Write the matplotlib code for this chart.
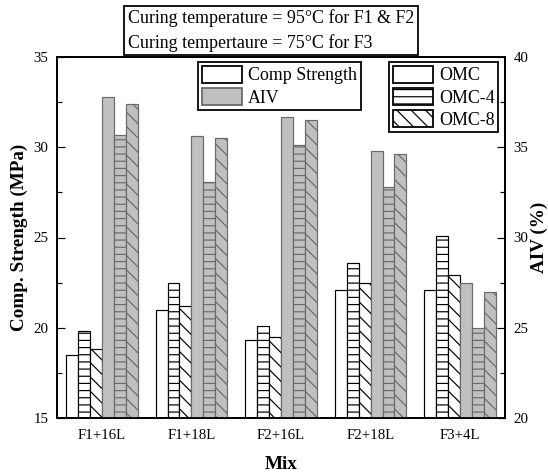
import numpy as np
import matplotlib
matplotlib.use('Agg')
import matplotlib.pyplot as plt
from matplotlib.patches import Patch
from matplotlib.ticker import MultipleLocator

plt.rcParams['font.family'] = ['Liberation Serif', 'DejaVu Serif']
plt.rcParams['hatch.linewidth'] = 1.0

# Daten
mixes = ['F1+16L', 'F1+18L', 'F2+16L', 'F2+18L', 'F3+4L']
cs_omc = [18.5, 21.0, 19.3, 22.1, 22.1]
cs_omc4 = [19.8, 22.5, 20.1, 23.6, 25.1]
cs_omc8 = [18.8, 21.2, 19.5, 22.5, 22.9]
aiv_omc = [37.8, 35.6, 36.7, 34.8, 27.5]
aiv_omc4 = [35.7, 33.1, 35.1, 32.8, 25.0]
aiv_omc8 = [37.4, 35.5, 36.5, 34.6, 27.0]

grey = '#c0c0c0'
grey_edge = '#6a6a6a'
hatches = ['', '--', '\\\\']

dpi = 86
fig = plt.figure(figsize=(548 / dpi, 472 / dpi), dpi=dpi)
ax = fig.add_axes([57 / 548, 1 - 418 / 472, 448 / 548, 361 / 472])
ax2 = ax.twinx()

x = np.arange(len(mixes))
w = 0.8 / 6

for i, (vals, h) in enumerate(zip([cs_omc, cs_omc4, cs_omc8], hatches)):
    ax.bar(x + (i - 2.5) * w, vals, w, color='white', edgecolor='black',
           hatch=h, linewidth=1.0)
for i, (vals, h) in enumerate(zip([aiv_omc, aiv_omc4, aiv_omc8], hatches)):
    ax2.bar(x + (i + 0.5) * w, vals, w, color=grey, edgecolor=grey_edge,
            hatch=h, linewidth=1.0)

ax.set_xlim(-0.5, len(mixes) - 0.5)
ax.set_ylim(15, 35)
ax2.set_ylim(20, 40)
ax.set_xticks(x)
ax.set_xticklabels(mixes)
ax.yaxis.set_major_locator(MultipleLocator(5))
ax.yaxis.set_minor_locator(MultipleLocator(2.5))
ax2.yaxis.set_major_locator(MultipleLocator(5))
ax2.yaxis.set_minor_locator(MultipleLocator(2.5))

ax.tick_params(axis='x', length=0, pad=9, labelsize=12.5)
ax.tick_params(axis='y', which='major', direction='in', length=7, width=1, pad=7, labelsize=12.5)
ax.tick_params(axis='y', which='minor', direction='in', length=4, width=1)
ax2.tick_params(axis='y', which='major', direction='in', length=7, width=1, pad=7, labelsize=12.5)
ax2.tick_params(axis='y', which='minor', direction='in', length=4, width=1)

for a in (ax, ax2):
    for s in a.spines.values():
        s.set_linewidth(1.5)

ax.set_ylabel('Comp. Strength (MPa)', fontsize=16, fontweight='bold', labelpad=5)
ax2.set_ylabel('AIV (%)', fontsize=16, fontweight='bold', labelpad=2)
ax.set_xlabel('Mix', fontsize=16, fontweight='bold', labelpad=12)

# Legenden
leg_kw = dict(fontsize=15, frameon=True, fancybox=False, framealpha=1,
              edgecolor='black', handlelength=2.25, handleheight=1.1,
              handletextpad=0.35, labelspacing=0.2, borderpad=0.2,
              borderaxespad=0, bbox_transform=fig.transFigure, loc='upper left')
h1 = [Patch(facecolor='white', edgecolor='black', linewidth=1.5),
      Patch(facecolor=grey, edgecolor=grey_edge, linewidth=1.5)]
leg1 = ax2.legend(h1, ['Comp Strength', 'AIV'],
                  bbox_to_anchor=(198 / 548, 1 - 62 / 472), **leg_kw)
leg1.get_frame().set_linewidth(1.5)
ax2.add_artist(leg1)
h2 = [Patch(facecolor='white', edgecolor='black', hatch=h, linewidth=1.5) for h in hatches]
leg2 = ax2.legend(h2, ['OMC', 'OMC-4', 'OMC-8'],
                  bbox_to_anchor=(389 / 548, 1 - 62 / 472), **leg_kw)
leg2.get_frame().set_linewidth(1.5)

fig.text(128 / 548, 1 - 30.5 / 472,
         'Curing temperature = 95°C for F1 & F2\nCuring tempertaure = 75°C for F3',
         fontsize=15, ha='left', va='center', linespacing=1.5,
         bbox=dict(boxstyle='square,pad=0.2', facecolor='white',
                   edgecolor='black', linewidth=1.5))

fig.savefig('out.png', dpi=dpi)
